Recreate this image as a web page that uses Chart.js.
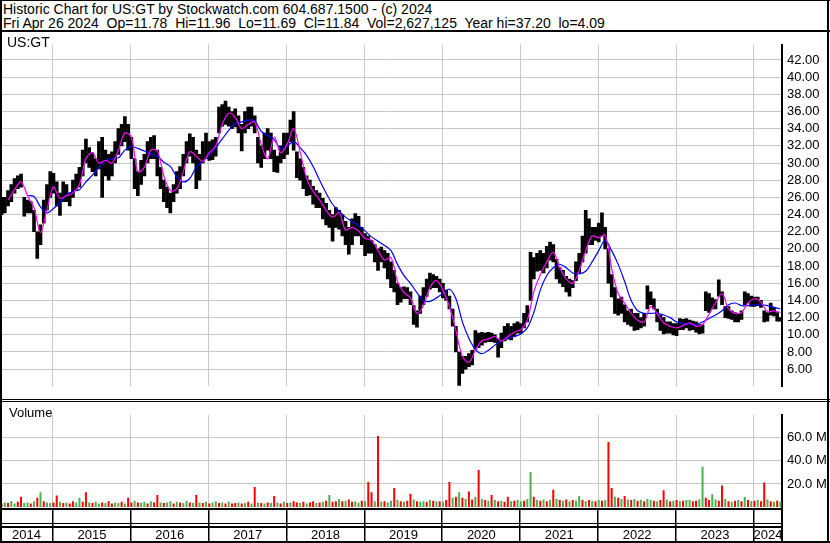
<!DOCTYPE html>
<html>
<head>
<meta charset="utf-8">
<script src="https://cdn.jsdelivr.net/npm/chart.js@4.4.1/dist/chart.umd.min.js"></script>
<style>
  html, body { margin: 0; padding: 0; background: #fff; }
  body { width: 830px; height: 543px; position: relative; overflow: hidden; font-family: "Liberation Sans", Arial, sans-serif; }
  .abs { position: absolute; }
  #title { left: 0; top: 0; width: 830px; height: 30px; font-size: 14px; line-height: 14.3px; white-space: pre; color: #000; }
  #title div { padding-left: 3px; }
  .rule { position: absolute; background: #000; }
  .tag { position: absolute; color: #000; white-space: pre; }
  canvas { position: absolute; left: 0; }
</style>
</head>
<body>
<div id="title" class="abs"><div style="margin-top:2px">Historic Chart for US:GT by Stockwatch.com 604.687.1500 - (c) 2024</div><div>Fri Apr 26 2024  Op=11.78  Hi=11.96  Lo=11.69  Cl=11.84  Vol=2,627,125  Year hi=37.20  lo=4.09</div></div>

<canvas id="price" width="830" height="367" style="top:32px"></canvas>
<canvas id="vol" width="830" height="141" style="top:402px"></canvas>

<div class="tag" style="left:7px;top:34px;font-size:14px">US:GT</div>
<div class="tag" style="left:9px;top:405px;font-size:13px">Volume</div>

<!-- frame -->
<div class="rule" style="left:0;top:0;width:830px;height:1px"></div>
<div class="rule" style="left:0;top:30px;width:830px;height:2px"></div>
<div class="rule" style="left:0;top:0;width:2px;height:543px"></div>
<div class="rule" style="left:827px;top:0;width:2px;height:543px"></div>
<div class="rule" style="left:0;top:399px;width:830px;height:1px"></div>
<div class="rule" style="left:0;top:401px;width:830px;height:1px"></div>

<script>
// ---- axis labels
const yearTicks  = [2015, 2016, 2017, 2018, 2019, 2020, 2021, 2022, 2023, 2024];
const yearLabels = ['2014', '2015', '2016', '2017', '2018', '2019', '2020', '2021', '2022', '2023', '2024'];
const priceTicks = [6, 8, 10, 12, 14, 16, 18, 20, 22, 24, 26, 28, 30, 32, 34, 36, 38, 40, 42];
const volTicks   = [20, 40, 60];

// ---- time: one bar per half month, first one late April 2014
const X_MIN = 2014.32, X_MAX = 2024.36;
const T0 = 2014.34;
const HALF = 1 / 24;

// half-month high / low of US:GT
const hi = [
  26, 26, 26.8, 27.5, 28.2, 28.5, 28.7, 26, 25.7, 25.5,
  24.5, 22, 22.8, 25.7, 27.5, 29, 28.8, 27.8, 26.5, 27.8,
  27.5, 26.5, 28, 28.7, 29.5, 31.5, 32.8, 31.8, 31.2, 30.5,
  32.5, 33, 31.5, 31, 31.3, 32.5, 34, 34.5, 35.4, 34.5,
  33, 30.5, 29, 30.3, 31, 32.5, 33, 33.2, 31.5, 29.5,
  28, 27.2, 26.5, 27.5, 29, 29.6, 31, 32.5, 33.4, 33,
  31.5, 31, 32.5, 33.5, 32.5, 32.7, 33, 36.5, 36.8, 37.2,
  36.5, 36, 36.3, 35.5, 34.5, 36, 36.5, 36.5, 35.5, 33,
  32, 33.5, 34, 33.5, 31.5, 30.8, 32, 33.5, 33.5, 35,
  36, 31.3, 30.5, 29.5, 28.5, 28, 27.3, 26.8, 26.5, 25.9,
  25.3, 24.5, 24, 24.8, 24.5, 24, 23.2, 22.5, 23.5, 24.1,
  23.8, 22.5, 21.8, 21.5, 21, 20.5, 20, 20.2, 19.8, 19.5,
  18.5, 17.5, 16, 15.5, 15.6, 15.5, 15, 13.4, 12.8, 14.5,
  15.5, 16.5, 17.2, 17, 16.8, 16.5, 16, 15.2, 14.5, 13,
  11, 8, 7.5, 7.5, 7.8, 8.2, 10.5, 10.2, 10.3, 10.2,
  10.3, 10.2, 10, 9.5, 10.2, 11, 11.3, 11, 11.3, 11.5,
  11.3, 12.5, 13.4, 19.6, 19, 19.5, 19.8, 19.5, 20.3, 20.8,
  20.5, 18.8, 17.8, 17.5, 16.8, 16.5, 16.3, 18.5, 19.5, 21.5,
  24.5, 23.5, 22.5, 22.5, 23, 24.2, 22.5, 20, 17, 15.5,
  14.2, 14.4, 13.5, 12.8, 13, 12.5, 12.5, 12, 12.5, 15.7,
  15, 14.2, 13, 12.3, 12, 11.5, 11.5, 11.3, 11.3, 11.9,
  11.8, 11.9, 11.7, 11.6, 11.5, 11.2, 11.2, 15, 14.8, 14.3,
  14.1, 16.4, 15, 13.3, 13.3, 12.8, 12.6, 12.5, 12.8, 15,
  14.8, 14.5, 14.4, 14.4, 14, 12.8, 12.6, 13.7, 13.2, 12.6,
  12
];
const lo = [
  24, 24.2, 25, 25.5, 26.5, 27, 27.2, 23.8, 24.2, 24.2,
  22, 18.9, 20.5, 23, 24.5, 26, 26.5, 25, 23.9, 25.5,
  25.5, 25, 26, 26.8, 27.2, 28.5, 30, 29.5, 29, 28.5,
  29.3, 26, 28.5, 28, 28.5, 30, 31, 32, 32.5, 31.5,
  30.5, 27, 26.2, 27.5, 28.5, 30, 30.5, 30.5, 28.5, 27,
  25.5, 24.8, 24.2, 25.5, 26.5, 27, 28.5, 30, 30.8, 30,
  27, 28, 30, 30.5, 30.3, 30.4, 30.8, 33.5, 34.3, 34.5,
  34.3, 34, 34.2, 33.5, 31.4, 33.5, 34, 34.3, 33.5, 30,
  29.5, 30.5, 31.5, 30.5, 29, 28.9, 30, 30.5, 31, 32.5,
  31.5, 28.3, 28, 27, 26.2, 26.3, 25.2, 24.8, 24.8, 23.5,
  22.8, 22.5, 20.9, 22.5, 22.3, 21.5, 20.5, 19.4, 20.5, 21.5,
  21.5, 20.5, 19.2, 19.5, 19.5, 18.5, 17.5, 18.5, 17.8, 16.5,
  15.5, 15, 13.5, 13.8, 14.2, 14.2, 13.5, 11.2, 10.9, 12.5,
  13.5, 14.5, 15.3, 15.5, 15.5, 15, 14.3, 14, 13, 11,
  8, 4.1, 5.5, 6, 6.3, 6.5, 8.3, 8.5, 8.8, 9.1,
  9.2, 9.2, 9.1, 7.4, 8.5, 9.3, 9.5, 9.4, 9.8, 10.2,
  10.2, 10.8, 11.5, 14, 16.5, 17.4, 17.5, 17.2, 17.8, 18.7,
  18.5, 16.5, 16, 15.6, 15, 14.5, 15.5, 16.3, 17.2, 18.5,
  19.5, 20.5, 20.5, 21, 20.8, 21.5, 20, 16, 14.4, 12.5,
  12.3, 12.5, 11.5, 11.2, 11, 10.5, 10.6, 10.8, 11, 13,
  13.5, 13, 11.5, 10.5, 10.1, 10.2, 10.2, 10, 9.9, 10.6,
  10.6, 10.8, 10.5, 10.6, 10.3, 10.1, 10.2, 12.8, 12.6, 13,
  13, 14.5, 13.5, 12, 11.9, 11.8, 11.5, 11.5, 11.8, 13.5,
  13.7, 13.3, 13.3, 13.4, 13.2, 11.5, 11.6, 12.3, 12.2, 11.6,
  11.6
];

// monthly readings of the two moving averages
const maShort = [
  null, 25.7, 26.9, 27.8, 26.2, 24.8, 21.9, 24.6, 27.2, 25.9,
  26.2, 26.5, 27.5, 30.5, 31.2, 30, 30.3, 30, 31.5, 33.5,
  33, 29, 29.5, 31.5, 31.4, 28.5, 26.8, 27, 29, 31.3,
  30.8, 30.2, 31.2, 32, 34.5, 35.8, 35.3, 34, 34.5, 34.8,
  32.2, 30.5, 33, 31.2, 32.2, 34, 31.3, 28.2, 26.7, 25.7,
  24.5, 23.7, 24.2, 22.2, 22.5, 22.1, 21.2, 21, 19.8, 18.7,
  19, 16.2, 14.9, 14.3, 12.5, 13.4, 15.5, 16.3, 15.2, 13.3,
  10.5, 7.5, 6.8, 8.2, 9.3, 9.5, 9.8, 9.3, 9.8, 10.3,
  10.6, 11.7, 15, 17, 18.5, 19.6, 17.8, 16.5, 16, 17.5,
  19.8, 21.5, 21.3, 21.6, 17.7, 14.8, 13.7, 12.5, 11.7, 11.5,
  13.3, 12.5, 11.4, 11, 10.8, 11.1, 11.4, 11, 11.2, 12.4,
  13.7, 14.8, 13, 12.5, 12.6, 13.7, 14.2, 13.8, 12.7, 12.8,
  12.6
];
const maLong = [
  null, null, null, null, 26.2, 26.1, 24.9, 24.2, 24.7, 25.4,
  26.3, 26.7, 26.9, 27.8, 28.6, 29.5, 30.3, 30.5, 30.6, 31.5,
  31.9, 31.7, 31.4, 31.1, 30.8, 30.1, 29.6, 28.4, 27.8, 28.2,
  29.5, 30.2, 30.9, 31.8, 32.8, 33.8, 34.6, 34.8, 35, 34.9,
  33.7, 33.2, 32.7, 31.7, 32, 32.5, 31.8, 30.9, 29.6, 28,
  26.5, 25.2, 24.4, 23.7, 23.2, 22.7, 22.1, 21.4, 20.9, 20.4,
  19.8, 18.2, 16.9, 16, 14.9, 14, 13.9, 14.3, 14.8, 15.3,
  14.2, 11.5, 9.6, 8.3, 7.8, 8.2, 8.8, 9.3, 9.6, 9.8,
  10.1, 10.8, 12.6, 15.2, 16.9, 17.8, 18.2, 17.8, 17.2, 17.1,
  17.4, 18.5, 19.8, 21, 19.8, 18.2, 16.2, 14, 12.8, 12.5,
  12.5, 12.5, 12.3, 12, 11.5, 11.3, 11.2, 11.2, 11.5, 11.9,
  12.3, 12.8, 13.5, 13.7, 13.4, 13.4, 13.5, 13.5, 13.4, 13.2,
  13
];

// half-month volume, millions of shares, and up (g) / down (r) side
const volume = [
  3, 4, 3.5, 5, 3, 4.5, 8.9, 3.5, 4, 3,
  5, 8, 12.7, 5, 4, 3.5, 4, 10, 4.5, 3.5,
  4, 3, 5, 4, 8, 4.5, 12.7, 4, 3.5, 4.5,
  3, 4, 3.5, 5, 3, 4, 3.5, 4.5, 3, 8,
  4, 5.5, 4, 3.5, 4.5, 3, 5, 4, 10.5, 4,
  3.5, 4, 5, 3, 4.5, 4, 3.5, 5.5, 4, 3.5,
  10.5, 4, 3.5, 4.5, 3, 4, 5, 3.5, 4, 3,
  4.5, 3, 3.5, 4, 3, 3.5, 4.5, 3, 17.3, 4,
  3.5, 3, 4, 3.5, 9.5, 4, 3, 4.5, 3.5, 4,
  5, 4, 3.5, 4.5, 3, 4, 5, 3.5, 4, 4.5,
  5.5, 10.5, 4.5, 5, 7, 5, 5.5, 6.5, 4.5, 5,
  4, 5.5, 5, 21.7, 12.7, 5, 61.5, 4.5, 5, 4,
  5.5, 16.5, 6, 5, 4.5, 5.5, 11.5, 6.5, 5, 4.5,
  5, 4.5, 6, 5.5, 5, 5, 4.5, 6, 21.7, 8,
  9, 12.7, 8, 7, 13.5, 6.5, 9, 32, 7, 6,
  5.5, 10.5, 6, 5, 5.5, 4.5, 9, 5, 5.5, 6,
  5, 5.5, 7, 30.4, 9, 6, 5.5, 6.5, 5, 6,
  15, 7, 6, 5.5, 6.5, 5, 6, 5.5, 9.5, 6,
  5, 6, 5.5, 5, 6, 5.5, 6, 56.4, 16.5, 9,
  8, 7, 9.5, 6.5, 6, 7, 5.5, 6, 5, 7,
  6, 5.5, 5, 6, 14.5, 6.5, 5, 5.5, 6, 5,
  5.5, 6, 6, 5, 5.5, 6.5, 35, 8, 6, 11,
  6.5, 5.5, 18.6, 7, 5, 4.5, 5.5, 6, 5, 8.7,
  6, 5, 5.5, 6, 5, 21.2, 6.5, 5, 4.5, 5.5,
  4.5
];
const volSide = (
  'rgrggrrggr' + 'grgrggrrgr' + 'grrggrrgrg' + 'grgrrggrgr' + 'rgrggrgrrg' +
  'rggrgrggrg' + 'rgrgrggrgr' + 'grrgrgrgrg' + 'rgrgrgrgrg' + 'rrgrgrrgrg' +
  'rgrrgrgrrg' + 'grgrrgrgrg' + 'grgrgrrgrg' + 'grgrgrgrrg' + 'rgrgrrgrgr' +
  'grgrgrrgrg' + 'grggrgrgrg' + 'rgrgrgrggr' + 'grgrgrgrrg' + 'rgrgrgrgrg' +
  'grgrrgrgrg' + 'rggrrggrrg' + 'grrgrgrgrg' + 'rgrgrrgrgr' + 'g'
).split('');

const FONT = '"Liberation Sans", Arial, sans-serif';
const GRID = '#c8c8c8';
const RED = '#ff0000', GREEN = '#4caf50';

const priceBars = hi.map((h, i) => ({ x: T0 + i * HALF, y: [lo[i], h] }));
const shortPts = maShort.map((v, j) => ({ x: T0 + j * 2 * HALF, y: v }));
const longPts  = maLong.map((v, j) => ({ x: T0 + j * 2 * HALF, y: v }));
const volBars  = volume.map((v, i) => ({ x: T0 + i * HALF, y: v }));

function xScale() {
  return {
    type: 'linear', min: X_MIN, max: X_MAX, offset: false,
    afterBuildTicks: s => { s.ticks = yearTicks.map(v => ({ value: v })); },
    ticks: { display: false },
    grid: { color: GRID, drawTicks: false, offset: false },
    border: { display: false }
  };
}

// price panel
new Chart(document.getElementById('price'), {
  type: 'bar',
  data: {
    datasets: [
      { type: 'line', data: shortPts, borderColor: '#ff00ff', borderWidth: 1.2, pointRadius: 0, tension: 0.35, order: 0 },
      { type: 'line', data: longPts, borderColor: '#0000ff', borderWidth: 1.2, pointRadius: 0, tension: 0.35, order: 1 },
      { type: 'bar', data: priceBars, backgroundColor: '#000', barThickness: 3, order: 2 }
    ]
  },
  options: {
    responsive: false, animation: false,
    layout: { padding: 0, autoPadding: false },
    plugins: { legend: { display: false }, tooltip: { enabled: false } },
    scales: {
      x: xScale(),
      y: {
        position: 'right', min: 4.016, max: 43.765,
        afterBuildTicks: s => { s.ticks = priceTicks.map(v => ({ value: v })); },
        afterFit: s => { s.width = 48; },
        ticks: { color: '#000', font: { family: FONT, size: 13 }, padding: 5, callback: v => v.toFixed(2) },
        grid: { color: GRID, drawTicks: false },
        border: { display: true, color: '#000', width: 2 }
      }
    }
  }
});

// year rows under the volume panel
const yearAxis = {
  id: 'yearAxis',
  afterDraw(chart) {
    const { ctx, scales: { x } } = chart;
    const bottom = chart.chartArea.bottom;
    const right = chart.chartArea.right;
    ctx.save();
    ctx.fillStyle = '#000';
    ctx.fillRect(0, bottom + 1, right, 2);
    ctx.fillRect(0, bottom + 16, right, 1);
    ctx.fillRect(0, bottom + 19, right, 2);
    ctx.fillRect(0, bottom + 34, 830, 2);
    ctx.fillRect(right - 1, bottom, 2, 36);
    yearTicks.forEach(t => {
      const px = Math.round(x.getPixelForValue(t));
      ctx.fillRect(px - 1, bottom + 2, 1.5, 33);
    });
    ctx.font = '13px ' + FONT;
    ctx.textAlign = 'center';
    ctx.textBaseline = 'alphabetic';
    yearLabels.forEach(lbl => {
      const y0 = Math.max(X_MIN, +lbl), y1 = Math.min(X_MAX, +lbl + 1);
      const mid = (x.getPixelForValue(y0) + x.getPixelForValue(y1)) / 2;
      ctx.fillText(lbl, mid, bottom + 32);
    });
    ctx.restore();
  }
};

// volume panel
new Chart(document.getElementById('vol'), {
  type: 'bar',
  data: {
    datasets: [{
      data: volBars,
      backgroundColor: volSide.map(s => s === 'g' ? GREEN : RED),
      barThickness: 2,
      inflateAmount: 0
    }]
  },
  options: {
    responsive: false, animation: false,
    layout: { padding: { top: 1, bottom: 36, left: 0, right: 0 }, autoPadding: false },
    plugins: { legend: { display: false }, tooltip: { enabled: false } },
    scales: {
      x: xScale(),
      y: {
        position: 'right', min: 0, max: 80,
        afterBuildTicks: s => { s.ticks = volTicks.map(v => ({ value: v })); },
        afterFit: s => { s.width = 48; },
        ticks: { color: '#000', font: { family: FONT, size: 13 }, padding: 5, callback: v => v.toFixed(1) + ' M' },
        grid: { color: GRID, drawTicks: false },
        border: { display: true, color: '#000', width: 2 }
      }
    }
  },
  plugins: [yearAxis]
});
</script>
</body>
</html>
